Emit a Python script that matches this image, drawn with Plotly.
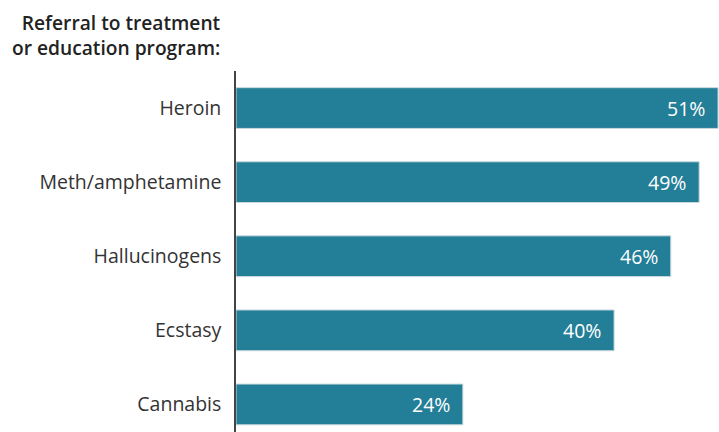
import plotly.graph_objects as go

categories = ["Heroin", "Meth/amphetamine", "Hallucinogens", "Ecstasy", "Cannabis"]
values = [51, 49, 46, 40, 24]
value_labels = [f"{v}%" for v in values]
title_lines = ["Referral to treatment", "or education program:"]

BAR = "#237e97"
FONT = "Open Sans"

positions = list(range(len(categories)))

fig = go.Figure()
fig.add_trace(go.Bar(
    x=values,
    y=positions,
    orientation="h",
    width=0.55,
    marker=dict(color=BAR, line=dict(color="#c9d9de", width=1)),
    hoverinfo="skip",
))

# value labels sit inside the bar end
for p, v, lab in zip(positions, values, value_labels):
    fig.add_annotation(
        x=v, y=p, xref="x", yref="y", text=lab, showarrow=False,
        xanchor="right", yanchor="middle", xshift=-11,
        font=dict(family=FONT, size=19.5, color="white"),
    )

# heading above the category labels, right-aligned with them
PLOT_TOP, PLOT_H, PLOT_L, PLOT_W = 71, 361, 236, 483
fig.add_annotation(
    x=(223 - PLOT_L) / PLOT_W, y=1 + (PLOT_TOP - 35.5) / PLOT_H,
    xref="paper", yref="paper",
    text="<br>".join(title_lines), showarrow=False,
    xanchor="right", yanchor="middle", align="right",
    font=dict(family=FONT, size=19.2, color="#222222", weight=600),
)

fig.update_layout(
    width=719, height=432,
    margin=dict(l=PLOT_L, r=0, t=PLOT_TOP, b=0),
    paper_bgcolor="white", plot_bgcolor="white",
    showlegend=False,
    xaxis=dict(range=[0, 51.1], visible=False, fixedrange=True),
    yaxis=dict(
        range=[4.372, -0.5],
        tickmode="array", tickvals=positions, ticktext=categories,
        showline=True, linecolor="#444444", linewidth=1.5,
        showgrid=False, zeroline=False, ticks="",
        ticklabelstandoff=9,
        tickfont=dict(family=FONT, size=19.5, color="#333333"),
    ),
)

fig.write_html("out.html")
